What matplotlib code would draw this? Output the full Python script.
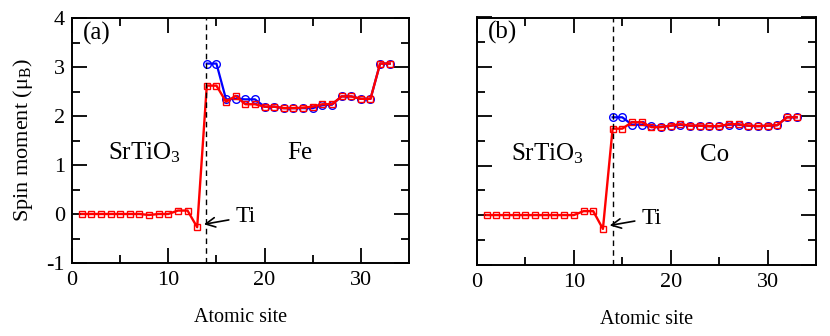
import matplotlib
matplotlib.use("Agg")
import matplotlib.pyplot as plt

plt.rcParams['font.family'] = ['Liberation Serif', 'DejaVu Serif']
plt.rcParams['mathtext.fontset'] = 'custom'
plt.rcParams['mathtext.rm'] = 'Liberation Serif'
plt.rcParams['mathtext.it'] = 'Liberation Serif'
plt.rcParams['axes.unicode_minus'] = False

# ---- data ----
sto_sites = list(range(1, 14))
metal_sites = list(range(14, 34))

fe_red_sto = [0, 0, 0, 0, 0, 0, 0, -0.02, 0, 0, 0.07, 0.07, -0.27]
fe_red_metal = [2.62, 2.62, 2.29, 2.41, 2.24, 2.24, 2.19, 2.19, 2.16, 2.16,
                2.17, 2.19, 2.24, 2.24, 2.40, 2.40, 2.35, 2.35, 3.07, 3.07]
fe_blue_metal = [3.07, 3.07, 2.34, 2.35, 2.34, 2.34, 2.19, 2.19, 2.16, 2.16,
                 2.16, 2.16, 2.22, 2.23, 2.40, 2.40, 2.35, 2.35, 3.07, 3.07]

co_red_sto = [0, 0, 0, 0, 0, 0, 0, 0, 0, 0, 0.08, 0.08, -0.28]
co_red_metal = [1.75, 1.75, 1.88, 1.88, 1.78, 1.78, 1.81, 1.84, 1.81, 1.81,
                1.80, 1.80, 1.84, 1.84, 1.81, 1.80, 1.81, 1.82, 1.98, 1.98]
co_blue_metal = [1.98, 1.98, 1.83, 1.83, 1.80, 1.79, 1.81, 1.83, 1.81, 1.81,
                 1.80, 1.80, 1.83, 1.83, 1.81, 1.80, 1.81, 1.82, 1.98, 1.98]

panels = [
    dict(tag='(a)', metal='Fe', red_sto=fe_red_sto, red_metal=fe_red_metal,
         blue_metal=fe_blue_metal, interface=13.9, metal_x=23.7, metal_y=1.25,
         sto_x=7.5),
    dict(tag='(b)', metal='Co', red_sto=co_red_sto, red_metal=co_red_metal,
         blue_metal=co_blue_metal, interface=14.0, metal_x=24.5, metal_y=1.22,
         sto_x=7.3),
]

fig = plt.figure(figsize=(8.3, 3.36), dpi=100)
rects = [[72/830, 73/336, 337/830, 245/336],
         [477/830, 71.5/336, 339/830, 247/336]]

for i, (p, r) in enumerate(zip(panels, rects)):
    ax = fig.add_axes(r)
    ax.plot(metal_sites, p['blue_metal'], '-o', color='#0000ff', lw=1.6,
            ms=5.5, mfc='none', mew=1.0)
    ax.plot(sto_sites + metal_sites, p['red_sto'] + p['red_metal'], '-s',
            color='#ff0000', lw=1.7, ms=5, mfc='none', mew=1.0)
    ax.axvline(p['interface'], color='black', lw=1.0, ls=(0, (4, 3)))
    ax.set_xlim(0, 35)
    ax.set_ylim(-1, 4)
    ax.set_xticks([0, 10, 20, 30])
    ax.set_xticks([5, 15, 25], minor=True)
    ax.set_yticks([-1, 0, 1, 2, 3, 4])
    ax.set_yticks([-0.5, 0.5, 1.5, 2.5, 3.5], minor=True)
    ax.tick_params(which='both', direction='in', top=True, right=True,
                   width=1.3, labelsize=16)
    ax.tick_params(which='major', length=11)
    ax.tick_params(which='minor', length=5.5)
    ax.tick_params(axis='x', pad=6)
    ax.tick_params(axis='y', pad=5)
    for s in ax.spines.values():
        s.set_linewidth(1.4)
    if i == 0:
        ax.set_ylabel(r'Spin moment ($\mathregular{\mu_B}$)', fontsize=16,
                      labelpad=8)
    else:
        ax.set_yticklabels([])
    ax.set_xlabel('Atomic site', fontsize=14.5, labelpad=13)
    ax.text(1.1, 3.69, p['tag'], fontsize=18, va='center', ha='left')
    ax.text(p['sto_x'], 1.25, r'SrTiO$\mathregular{_3}$', fontsize=18,
            va='center', ha='center')
    ax.text(p['metal_x'], p['metal_y'], p['metal'], fontsize=18, va='center',
            ha='center')
    ax.annotate('Ti', xy=(13.7, -0.21), xytext=(17.0, -0.06), fontsize=17,
                va='center', ha='left',
                arrowprops=dict(arrowstyle='->', color='black', lw=1.2,
                                shrinkA=3, shrinkB=0))

fig.savefig('out.png', dpi=100)
